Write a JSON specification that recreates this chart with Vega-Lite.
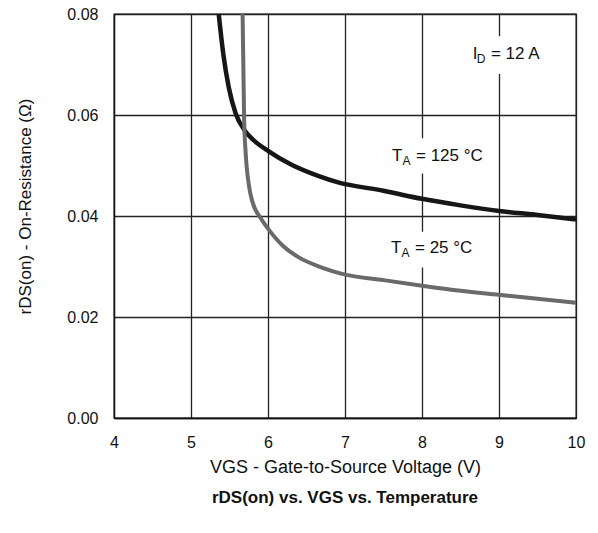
{
  "$schema": "https://vega.github.io/schema/vega-lite/v6.json",
  "width": 462,
  "height": 404,
  "autosize": {"type": "none"},
  "padding": {"left": 114, "top": 14, "right": 22, "bottom": 115},
  "background": "white",
  "config": {
    "font": "Liberation Sans",
    "view": {"stroke": "#111", "strokeWidth": 1.3},
    "axis": {
      "grid": true, "gridColor": "#222", "gridWidth": 1.3, "gridOpacity": 1,
      "domainColor": "#111", "domainWidth": 1.3, "ticks": false, "labelFlush": false,
      "labelFont": "Liberation Sans", "labelFontSize": 16, "labelColor": "#111",
      "titleFont": "Liberation Sans", "titleFontSize": 17, "titleFontWeight": "normal", "titleColor": "#111"
    }
  },
  "title": {
    "text": "rDS(on) vs. VGS vs. Temperature",
    "orient": "bottom", "anchor": "middle", "font": "Liberation Sans",
    "fontSize": 17, "fontWeight": "bold", "color": "#111", "offset": 14
  },
  "datasets": {
    "curves": [
      {"vgs": 5.36, "r": 0.080, "series": "125"},
      {"vgs": 5.42, "r": 0.072, "series": "125"},
      {"vgs": 5.49, "r": 0.0655, "series": "125"},
      {"vgs": 5.58, "r": 0.0603, "series": "125"},
      {"vgs": 5.7, "r": 0.0569, "series": "125"},
      {"vgs": 5.8, "r": 0.0552, "series": "125"},
      {"vgs": 6.0, "r": 0.0529, "series": "125"},
      {"vgs": 6.3, "r": 0.0502, "series": "125"},
      {"vgs": 6.66, "r": 0.0479, "series": "125"},
      {"vgs": 6.9, "r": 0.0467, "series": "125"},
      {"vgs": 7.5, "r": 0.0450, "series": "125"},
      {"vgs": 8.0, "r": 0.0434, "series": "125"},
      {"vgs": 8.5, "r": 0.0421, "series": "125"},
      {"vgs": 9.0, "r": 0.0410, "series": "125"},
      {"vgs": 9.5, "r": 0.0402, "series": "125"},
      {"vgs": 10.0, "r": 0.0393, "series": "125"},
      {"vgs": 5.67, "r": 0.080, "series": "25"},
      {"vgs": 5.69, "r": 0.059, "series": "25"},
      {"vgs": 5.71, "r": 0.0525, "series": "25"},
      {"vgs": 5.753, "r": 0.0460, "series": "25"},
      {"vgs": 5.8, "r": 0.0427, "series": "25"},
      {"vgs": 5.9, "r": 0.0397, "series": "25"},
      {"vgs": 6.0, "r": 0.0375, "series": "25"},
      {"vgs": 6.2, "r": 0.0340, "series": "25"},
      {"vgs": 6.4, "r": 0.0318, "series": "25"},
      {"vgs": 6.7, "r": 0.0298, "series": "25"},
      {"vgs": 6.95, "r": 0.0286, "series": "25"},
      {"vgs": 7.5, "r": 0.0273, "series": "25"},
      {"vgs": 8.0, "r": 0.0262, "series": "25"},
      {"vgs": 8.5, "r": 0.0252, "series": "25"},
      {"vgs": 9.0, "r": 0.0244, "series": "25"},
      {"vgs": 9.5, "r": 0.0236, "series": "25"},
      {"vgs": 10.0, "r": 0.0228, "series": "25"}
    ],
    "labels": [
      {"x": 8.83, "y": 0.0721, "main": "I", "sub": "D", "rest": "= 12 A", "x1": 8.61, "x2": 9.72, "y1": 0.0756, "y2": 0.0681},
      {"x": 7.857, "y": 0.0518, "main": "T", "sub": "A", "rest": "= 125 °C", "x1": 7.52, "x2": 8.95, "y1": 0.0554, "y2": 0.0484},
      {"x": 7.844, "y": 0.0337, "main": "T", "sub": "A", "rest": "= 25 °C", "x1": 7.52, "x2": 8.8, "y1": 0.0369, "y2": 0.0298}
    ]
  },
  "layer": [
    {
      "data": {"name": "labels"},
      "mark": {"type": "rect", "fill": "white"},
      "encoding": {
        "x": {"field": "x1", "type": "quantitative", "scale": {"domain": [4, 10]},
              "axis": {"values": [4, 5, 6, 7, 8, 9, 10], "format": "d", "labelPadding": 16, "title": "VGS - Gate-to-Source Voltage (V)", "titlePadding": 8, "titleFontSize": 18}},
        "x2": {"field": "x2"},
        "y": {"field": "y1", "type": "quantitative", "scale": {"domain": [0, 0.08]},
              "axis": {"values": [0, 0.02, 0.04, 0.06, 0.08], "format": ".2f", "labelPadding": 16, "title": "rDS(on)  - On-Resistance (Ω)", "titlePadding": 32, "titleY": 192}},
        "y2": {"field": "y2"}
      }
    },
    {
      "data": {"name": "curves"},
      "mark": {"type": "line", "strokeCap": "butt", "strokeJoin": "round", "interpolate": "monotone"},
      "encoding": {
        "x": {"field": "vgs", "type": "quantitative"},
        "y": {"field": "r", "type": "quantitative"},
        "color": {"field": "series", "type": "nominal", "scale": {"domain": ["125", "25"], "range": ["#161616", "#6a6a6a"]}, "legend": null},
        "strokeWidth": {"field": "series", "type": "nominal", "scale": {"domain": ["125", "25"], "range": [4.5, 4]}, "legend": null}
      }
    },
    {
      "data": {"name": "labels"},
      "mark": {"type": "text", "align": "right", "baseline": "middle", "dx": -8.5, "fontSize": 17, "color": "#111", "font": "Liberation Sans"},
      "encoding": {"x": {"field": "x", "type": "quantitative"}, "y": {"field": "y", "type": "quantitative"}, "text": {"field": "main"}}
    },
    {
      "data": {"name": "labels"},
      "mark": {"type": "text", "align": "right", "baseline": "middle", "dx": -0.5, "dy": 5, "fontSize": 12, "color": "#111", "font": "Liberation Sans"},
      "encoding": {"x": {"field": "x", "type": "quantitative"}, "y": {"field": "y", "type": "quantitative"}, "text": {"field": "sub"}}
    },
    {
      "data": {"name": "labels"},
      "mark": {"type": "text", "align": "left", "baseline": "middle", "dx": 5, "fontSize": 17, "color": "#111", "font": "Liberation Sans"},
      "encoding": {"x": {"field": "x", "type": "quantitative"}, "y": {"field": "y", "type": "quantitative"}, "text": {"field": "rest"}}
    }
  ]
}
